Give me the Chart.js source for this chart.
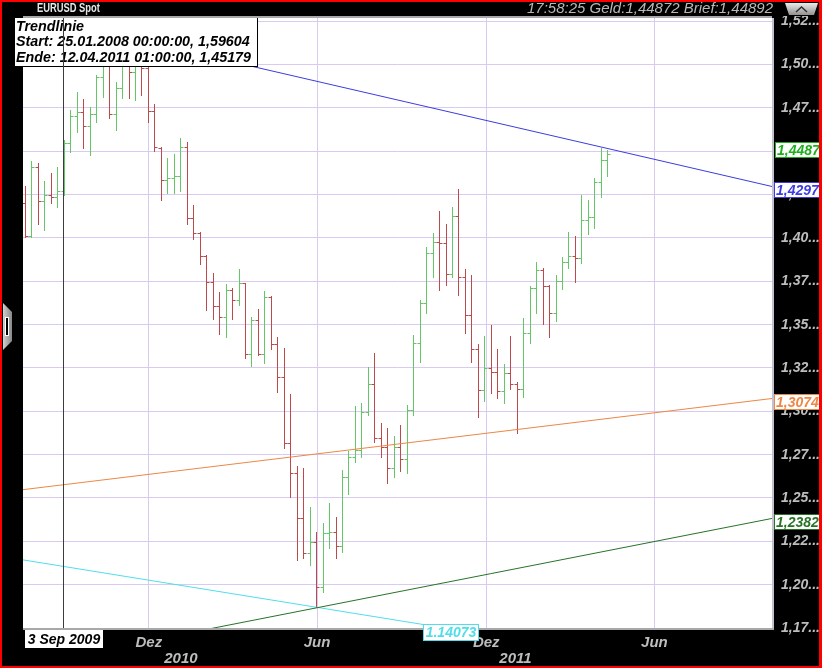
<!DOCTYPE html>
<html>
<head>
<meta charset="utf-8">
<title>EURUSD Spot</title>
<script src="https://cdn.jsdelivr.net/npm/chart.js@4.4.1/dist/chart.umd.min.js"></script>
<style>
html,body{margin:0;padding:0;background:#000;overflow:hidden;}
#c{display:block;}
</style>
</head>
<body>
<canvas id="c" width="822" height="668"></canvas>
<script>
// ---- weekly OHLC, EUR/USD (bar index 0 = week of 20.07.2009) ----
const opens = [1.4200,1.4013,1.4408,1.4213,1.4246,1.4235,1.4269,1.4546,1.4704,1.4725,
1.4648,1.4715,1.4931,1.5027,1.4715,1.4864,1.5039,1.4956,1.5085,1.4979,
1.4733,1.4521,1.4335,1.4344,1.4358,1.4523,1.4114,1.4027,1.3898,1.3748,
1.3607,1.3542,1.3700,1.3642,1.3738,1.3329,1.3527,1.3329,1.3659,1.3387,
1.3200,1.2815,1.2642,1.2382,1.2181,1.2248,1.1988,1.2296,1.2305,1.2225,
1.2622,1.2738,1.2777,1.2998,1.3156,1.2844,1.2796,1.2671,1.2796,1.2725,
1.3007,1.3392,1.3623,1.3915,1.3979,1.3973,1.3792,1.4127,1.3777,1.3556,
1.3358,1.3123,1.3248,1.3225,1.3119,1.3219,1.3157,1.3127,1.3450,1.3710,
1.3815,1.3723,1.3569,1.3753,1.3863,1.3896,1.3883,1.4104,1.4123,1.4321,
1.4450];
const highs = [1.4302,1.4444,1.4434,1.4329,1.4377,1.4408,1.4565,1.4738,1.4841,1.4802,
1.4758,1.4940,1.5073,1.5085,1.4902,1.5096,1.5119,1.5142,1.5131,1.5027,
1.4771,1.4527,1.4460,1.4483,1.4575,1.4552,1.4190,1.4036,1.3902,1.3796,
1.3690,1.3733,1.3710,1.3821,1.3742,1.3542,1.3588,1.3694,1.3665,1.3427,
1.3363,1.3100,1.2684,1.2671,1.2449,1.2305,1.2354,1.2469,1.2392,1.2661,
1.2773,1.3031,1.3050,1.3257,1.3335,1.2931,1.2902,1.2857,1.2921,1.3036,
1.3440,1.3642,1.3950,1.4027,1.4157,1.4081,1.4177,1.4281,1.3819,1.3786,
1.3388,1.3434,1.3498,1.3358,1.3271,1.3434,1.3171,1.3537,1.3723,1.3863,
1.3825,1.3729,1.3786,1.3889,1.4033,1.4011,1.4248,1.4219,1.4344,1.4517,
1.4508];
const lows = [1.4007,1.4007,1.4081,1.4046,1.4200,1.4177,1.4248,1.4498,1.4610,1.4521,
1.4477,1.4671,1.4815,1.4692,1.4623,1.4808,1.4808,1.4796,1.4825,1.4669,
1.4502,1.4219,1.4258,1.4258,1.4269,1.4079,1.3992,1.3848,1.3584,1.3531,
1.3444,1.3430,1.3531,1.3613,1.3306,1.3263,1.3325,1.3280,1.3358,1.3113,
1.2786,1.2507,1.2142,1.2152,1.2113,1.1872,1.1959,1.2210,1.2152,1.2190,
1.2523,1.2706,1.2734,1.2979,1.2824,1.2738,1.2584,1.2622,1.2657,1.2642,
1.2979,1.3286,1.3565,1.3777,1.3700,1.3729,1.3777,1.3671,1.3450,1.3286,
1.2969,1.3059,1.3107,1.3075,1.3050,1.3127,1.2873,1.3084,1.3392,1.3569,
1.3504,1.3427,1.3521,1.3704,1.3829,1.3748,1.3854,1.4021,1.4056,1.4238,
1.4358];
const closes = [1.4013,1.4408,1.4213,1.4246,1.4235,1.4269,1.4546,1.4704,1.4725,1.4648,
1.4715,1.4931,1.5027,1.4715,1.4864,1.5039,1.4956,1.5085,1.4979,1.4733,
1.4527,1.4335,1.4344,1.4358,1.4523,1.4114,1.4030,1.3898,1.3748,1.3607,
1.3542,1.3700,1.3642,1.3738,1.3329,1.3527,1.3329,1.3659,1.3387,1.3200,
1.2815,1.2642,1.2382,1.2181,1.2248,1.1988,1.2296,1.2305,1.2225,1.2622,
1.2738,1.2777,1.2998,1.3156,1.2844,1.2796,1.2671,1.2796,1.2725,1.3007,
1.3392,1.3623,1.3915,1.3979,1.3973,1.3792,1.4127,1.3777,1.3556,1.3358,
1.3123,1.3248,1.3225,1.3119,1.3219,1.3157,1.3127,1.3450,1.3710,1.3815,
1.3723,1.3569,1.3753,1.3863,1.3896,1.3883,1.4104,1.4123,1.4321,1.4450,
1.4487];

// ---- axes ----
const xRange = [-0.31, 115.46];
const yRange = [1.175, 1.5269];
const xTickPos = [19.14, 45.14, 71.29, 97.29];
const xTickLabels = ['Dez', 'Jun', 'Dez', 'Jun'];
const yearTickPos = [24.1, 75.8];
const yearTickLabels = ['2010', '2011'];
const yTickValues = [1.175,1.2,1.225,1.25,1.275,1.3,1.325,1.35,1.375,1.4,1.425,1.45,1.475,1.5,1.525];

// ---- trend lines (bar index, price) ----
const blueTrend = [{x:-77.43, y:1.59604}, {x:115.46, y:1.4297}];
const orangeTrend = [{x:-0.31, y:1.2548}, {x:115.46, y:1.3074}];
const greenTrend = [{x:-0.31, y:1.1534}, {x:115.46, y:1.2382}];
const cyanTrend = [{x:-0.31, y:1.2143}, {x:64.9, y:1.175}];
const cyanLabel = '1.14073';

// ---- annotations ----
const crossIndex = 6;
const crossLabel = '3 Sep 2009';
const infoLines = ['Trendlinie', 'Start: 25.01.2008 00:00:00, 1,59604', 'Ende: 12.04.2011 01:00:00, 1,45179'];
const headerLeft = 'EURUSD Spot';
const headerRight = '17:58:25 Geld:1,44872 Brief:1,44892';

const GRID = 'rgb(216,202,240)';
const UP = 'rgb(100,198,100)';
const DOWN = 'rgb(188,74,74)';
const LBL = '#bdbdbd';
const BLUE = 'rgb(60,60,225)';
const ORANGE = 'rgb(236,135,70)';
const DKGREEN = 'rgb(40,115,40)';
const CYAN = 'rgb(80,222,235)';
const PRICEGREEN = 'rgb(30,175,30)';
const FONT = '"Liberation Sans", Arial, sans-serif';

function fmt4(v){ return v.toFixed(4).replace('.', ','); }

function tagBox(ctx, left, top, w, h, text, color, align){
  ctx.fillStyle = '#fff';
  ctx.fillRect(left, top, w, h);
  ctx.strokeStyle = color; ctx.lineWidth = 1;
  ctx.strokeRect(left + 0.5, top + 0.5, w - 1, h - 1);
  ctx.fillStyle = color;
  ctx.font = 'italic bold 14px ' + FONT;
  ctx.textBaseline = 'middle';
  if (align === 'center') { ctx.textAlign = 'center'; ctx.fillText(text, left + w / 2, top + h / 2 + 1); }
  else { ctx.textAlign = 'left'; ctx.fillText(text, left + 2, top + h / 2 + 1); }
}

const decor = {
  id: 'decor',
  beforeDraw(chart){
    const {ctx, chartArea: a} = chart;
    ctx.save();
    ctx.fillStyle = '#000';
    ctx.fillRect(0, 0, chart.width, chart.height);
    ctx.fillStyle = '#fff';
    ctx.fillRect(a.left, a.top, a.right - a.left, a.bottom - a.top);
    ctx.restore();
  },
  beforeDatasetsDraw(chart){
    const {ctx, chartArea: a, scales: {x, y}} = chart;
    ctx.save();
    ctx.beginPath(); ctx.rect(a.left, a.top, a.right - a.left, a.bottom - a.top); ctx.clip();
    ctx.lineWidth = 1;
    for (let i = 0; i < opens.length; i++){
      const px = Math.round(x.getPixelForValue(i)) + 0.5;
      const yh = Math.round(y.getPixelForValue(highs[i]));
      const yl = Math.round(y.getPixelForValue(lows[i]));
      const yo = Math.round(y.getPixelForValue(opens[i])) + 0.5;
      const yc = Math.round(y.getPixelForValue(closes[i])) + 0.5;
      ctx.strokeStyle = closes[i] >= opens[i] ? UP : DOWN;
      ctx.beginPath();
      ctx.moveTo(px, yh); ctx.lineTo(px, yl + 1);
      ctx.moveTo(px - 3, yo); ctx.lineTo(px, yo);
      ctx.moveTo(px, yc); ctx.lineTo(px + 3, yc);
      ctx.stroke();
    }
    ctx.restore();
  },
  afterDatasetsDraw(chart){
    const {ctx, chartArea: a, scales: {x}} = chart;
    ctx.save();
    // info box
    ctx.fillStyle = '#fff';
    ctx.fillRect(14, 17, 244, 50);
    ctx.strokeStyle = '#000'; ctx.lineWidth = 1;
    ctx.strokeRect(14.5, 17.5, 243, 49);
    ctx.fillStyle = '#000';
    ctx.font = 'italic bold 14.3px ' + FONT;
    ctx.textBaseline = 'middle'; ctx.textAlign = 'left';
    infoLines.forEach((t, k) => ctx.fillText(t, 16, 27 + k * 15.5));
    // crosshair
    const cx = Math.round(x.getPixelForValue(crossIndex)) - 0.5;
    ctx.strokeStyle = '#3c3c3c';
    ctx.beginPath(); ctx.moveTo(cx, a.top); ctx.lineTo(cx, a.bottom); ctx.stroke();
    // plot borders
    ctx.fillStyle = '#a8a8a8';
    ctx.fillRect(a.left, a.top - 2, a.right - a.left, 2);
    ctx.fillRect(a.left, a.bottom, a.right - a.left + 2, 2);
    ctx.fillStyle = '#c4c0d0';
    ctx.fillRect(a.right, a.top, 2, a.bottom - a.top);
    ctx.restore();
  },
  afterDraw(chart){
    const {ctx, chartArea: a, scales: {x, y}} = chart;
    ctx.save();
    // right value tags
    const last = closes[closes.length - 1];
    tagBox(ctx, a.right + 3, Math.round(y.getPixelForValue(last)) - 12, 46, 16, fmt4(last), PRICEGREEN);
    [[blueTrend, BLUE], [orangeTrend, ORANGE], [greenTrend, DKGREEN]].forEach(([tr, col]) => {
      const v = tr[tr.length - 1].y;
      tagBox(ctx, a.right + 2, Math.round(y.getPixelForValue(v)) - 4, 47, 16, fmt4(v), col);
    });
    // cyan tag where the line leaves the plot
    const p0 = cyanTrend[0], p1 = cyanTrend[1];
    const t = (p0.y - yRange[0]) / (p0.y - p1.y);
    const xc = x.getPixelForValue(p0.x + t * (p1.x - p0.x));
    tagBox(ctx, Math.round(xc) - 22, a.bottom - 4, 56, 17, cyanLabel, CYAN, 'center');
    // crosshair date label
    const cx = x.getPixelForValue(crossIndex);
    ctx.fillStyle = '#fff';
    ctx.fillRect(Math.round(cx) - 39, a.bottom + 2, 78, 18);
    ctx.fillStyle = '#000';
    ctx.font = 'italic bold 14px ' + FONT;
    ctx.textAlign = 'center'; ctx.textBaseline = 'middle';
    ctx.fillText(crossLabel, Math.round(cx), a.bottom + 12);
    // header
    ctx.fillStyle = '#000';
    ctx.fillRect(0, 0, chart.width, a.top - 2);
    ctx.fillStyle = '#e6e6e6';
    ctx.font = 'bold 12px ' + FONT;
    ctx.textAlign = 'left'; ctx.textBaseline = 'middle';
    ctx.save();
    ctx.translate(37, 9);
    ctx.scale(0.78, 1);
    ctx.fillText(headerLeft, 0, 0);
    ctx.restore();
    ctx.fillStyle = '#b8b8b8';
    ctx.font = 'italic 15px ' + FONT;
    ctx.textAlign = 'right';
    ctx.fillText(headerRight, 773, 9);
    // header button
    const g = ctx.createLinearGradient(0, 2, 0, 16);
    g.addColorStop(0, '#f2f2f2'); g.addColorStop(1, '#8a8a8a');
    ctx.fillStyle = g;
    ctx.beginPath();
    ctx.moveTo(785, 3); ctx.lineTo(818, 3); ctx.lineTo(814, 15); ctx.lineTo(789, 15); ctx.closePath(); ctx.fill();
    ctx.strokeStyle = '#303030'; ctx.lineWidth = 1.5;
    ctx.beginPath(); ctx.moveTo(796, 12); ctx.lineTo(801.5, 7); ctx.lineTo(807, 12); ctx.stroke();
    // left scroll tab
    const g2 = ctx.createLinearGradient(3, 0, 13, 0);
    g2.addColorStop(0, '#d0d0d0'); g2.addColorStop(1, '#808080');
    ctx.fillStyle = g2;
    ctx.beginPath();
    ctx.moveTo(3, 303); ctx.lineTo(12, 312); ctx.lineTo(12, 341); ctx.lineTo(3, 350); ctx.closePath(); ctx.fill();
    ctx.fillStyle = '#fff'; ctx.fillRect(5, 317, 4, 19);
    ctx.fillStyle = '#000'; ctx.fillRect(6, 318, 2, 17);
    // red frame
    ctx.fillStyle = '#ff0000';
    ctx.fillRect(0, 0, chart.width, 2);
    ctx.fillRect(0, chart.height - 2, chart.width, 2);
    ctx.fillRect(0, 0, 2, chart.height);
    ctx.fillRect(chart.width - 3, 0, 3, chart.height);
    ctx.restore();
  }
};

const tickFont = {family: FONT, size: 15, style: 'italic', weight: 'bold'};
const yFont = {family: FONT, size: 14, style: 'italic', weight: 'bold'};

const lineDs = (data, color) => ({
  type: 'line', data, borderColor: color, borderWidth: 1, pointRadius: 0,
  fill: false, tension: 0, clip: 0
});

new Chart(document.getElementById('c'), {
  type: 'line',
  data: {
    datasets: [
      lineDs(blueTrend, BLUE),
      lineDs(orangeTrend, ORANGE),
      lineDs(greenTrend, DKGREEN),
      lineDs(cyanTrend, CYAN)
    ]
  },
  options: {
    responsive: false,
    animation: false,
    devicePixelRatio: 1,
    layout: {padding: {left: 23, top: 18, right: 0, bottom: 0}},
    plugins: {legend: {display: false}, tooltip: {enabled: false}},
    scales: {
      x: {
        type: 'linear', position: 'bottom', min: xRange[0], max: xRange[1], weight: 0,
        afterBuildTicks: s => { s.ticks = xTickPos.map(v => ({value: v})); },
        afterFit: s => { s.height = 20; },
        grid: {color: GRID, drawTicks: false, lineWidth: 1},
        border: {display: false},
        ticks: {autoSkip: false, maxRotation: 0, padding: 6, color: LBL, font: tickFont,
                callback: (v, i) => xTickLabels[i]}
      },
      x2: {
        type: 'linear', position: 'bottom', min: xRange[0], max: xRange[1], weight: 1,
        afterBuildTicks: s => { s.ticks = yearTickPos.map(v => ({value: v})); },
        afterFit: s => { s.height = 20; },
        grid: {display: false, drawTicks: false},
        border: {display: false},
        ticks: {autoSkip: false, maxRotation: 0, padding: 2, color: LBL, font: tickFont,
                callback: (v, i) => yearTickLabels[i]}
      },
      y: {
        type: 'linear', position: 'right', min: yRange[0], max: yRange[1],
        afterBuildTicks: s => { s.ticks = yTickValues.map(v => ({value: v})); },
        afterFit: s => { s.width = 50; },
        grid: {color: GRID, drawTicks: false, lineWidth: 1},
        border: {display: false},
        ticks: {autoSkip: false, padding: 9, color: LBL, font: yFont,
                callback: v => (Math.floor(v * 100 + 1e-6) / 100).toFixed(2).replace('.', ',') + '...'}
      }
    }
  },
  plugins: [decor]
});
</script>
</body>
</html>
